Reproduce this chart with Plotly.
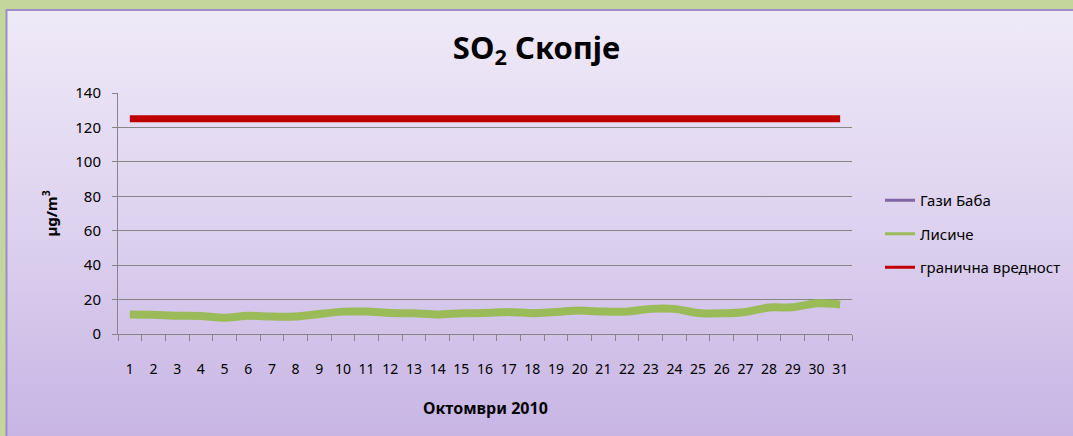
import base64
import plotly.graph_objects as go

days = [str(d) for d in range(1, 32)]
lisiche = [11.4, 11.2, 10.6, 10.5, 9.4, 10.6, 10.1, 10.1, 11.6, 13.0, 13.0, 12.2, 12.0, 11.3, 12.0,
           12.2, 12.8, 12.1, 12.8, 13.6, 13.0, 13.0, 14.6, 14.6, 12.2, 12.0, 12.8, 15.4, 15.5, 17.8, 17.2]
limit_value = [125] * 31
gazi_baba = [None] * 31

series_names = ["Гази Баба", "Лисиче", "гранична вредност"]
series_colors = ["#8064a2", "#9bbb59", "#c00000"]

W, H = 1073, 436
L, R, T, B = 118, 221, 93, 102
PW, PH = W - L - R, H - T - B


def px_x(p):
    return (p - L) / PW


def px_y(p):
    return (H - B - p) / PH


font = "Noto Sans"

fig = go.Figure()

# data traces (no legend)
fig.add_trace(go.Scatter(x=days, y=gazi_baba, mode="lines", showlegend=False,
                         line=dict(color=series_colors[0], width=3)))
fig.add_trace(go.Scatter(x=days, y=lisiche, mode="lines", showlegend=False,
                         line=dict(color=series_colors[1], width=8, shape="spline", smoothing=0.6)))
fig.add_trace(go.Scatter(x=days, y=limit_value, mode="lines", showlegend=False,
                         line=dict(color=series_colors[2], width=7)))

# legend entries
for i, (n, c) in enumerate(zip(series_names, series_colors)):
    fig.add_trace(go.Scatter(x=[None], y=[None], mode="lines", name=n, legendgroup=str(i),
                             line=dict(color=c, width=3)))

svg = ('<svg xmlns="http://www.w3.org/2000/svg" width="100" height="100" preserveAspectRatio="none">'
       '<defs><linearGradient id="g" x1="0" y1="0" x2="0" y2="1">'
       '<stop offset="0" stop-color="#efeaf8"/><stop offset="0.5" stop-color="#ddd2ef"/>'
       '<stop offset="1" stop-color="#c7b4e4"/></linearGradient></defs>'
       '<rect width="100" height="100" fill="url(#g)"/></svg>')
src = "data:image/svg+xml;base64," + base64.b64encode(svg.encode()).decode()

fig.add_layout_image(dict(source=src, xref="paper", yref="paper",
                          x=px_x(7), y=px_y(10), sizex=px_x(W + 5) - px_x(7),
                          sizey=px_y(10) - px_y(H + 5), xanchor="left", yanchor="top",
                          sizing="stretch", layer="below"))

fig.add_shape(type="rect", xref="paper", yref="paper", x0=px_x(6.5), x1=px_x(W + 10),
              y0=px_y(H + 10), y1=px_y(10), line=dict(color="#a08cc8", width=2),
              fillcolor="rgba(0,0,0,0)", layer="below")

fig.update_layout(
    width=W, height=H,
    margin=dict(l=L, r=R, t=T, b=B, autoexpand=False),
    paper_bgcolor="#c3d69b",
    plot_bgcolor="rgba(0,0,0,0)",
    font=dict(family=font, size=15, color="#000000"),
    title=dict(text="<b>SO<sub>2</sub> Скопје</b>", x=0.5, xref="container", xanchor="center",
               y=1 - 48 / H, yref="container", yanchor="middle",
               font=dict(family=font, size=31, color="#000000")),
    showlegend=True,
    legend=dict(x=px_x(880), y=px_y(184), xanchor="left", yanchor="top",
                bgcolor="rgba(0,0,0,0)", tracegroupgap=11, traceorder="grouped",
                font=dict(family=font, size=15, color="#000000")),
    xaxis=dict(type="category", range=[-0.5, 30.5], tickson="boundaries", ticks="outside",
               ticklen=6, tickcolor="#868686", showline=True, linecolor="#868686", linewidth=1,
               showgrid=False, zeroline=False, ticklabelstandoff=22, tickangle=0,
               tickfont=dict(family=font, size=14), automargin=False),
    yaxis=dict(range=[0, 140], tickvals=[0, 20, 40, 60, 80, 100, 120, 140], ticks="outside",
               ticklen=5, tickcolor="#868686", showline=True, linecolor="#868686", linewidth=1,
               showgrid=True, gridcolor="#868686", gridwidth=1, zeroline=False,
               ticklabelstandoff=8, tickfont=dict(family=font, size=15), automargin=False),
    annotations=[
        dict(text="<b>µg/m<sup>3</sup></b>", xref="paper", yref="paper", x=px_x(50), y=0.5,
             textangle=-90, showarrow=False, font=dict(family=font, size=15),
             xanchor="center", yanchor="middle"),
        dict(text="<b>Октомври 2010</b>", xref="paper", yref="paper", x=0.5, y=px_y(408),
             showarrow=False, font=dict(family=font, size=16), xanchor="center", yanchor="middle"),
    ],
)

fig.write_html("out.html", config={"displayModeBar": False},
               post_script="document.body.style.margin='0';")
